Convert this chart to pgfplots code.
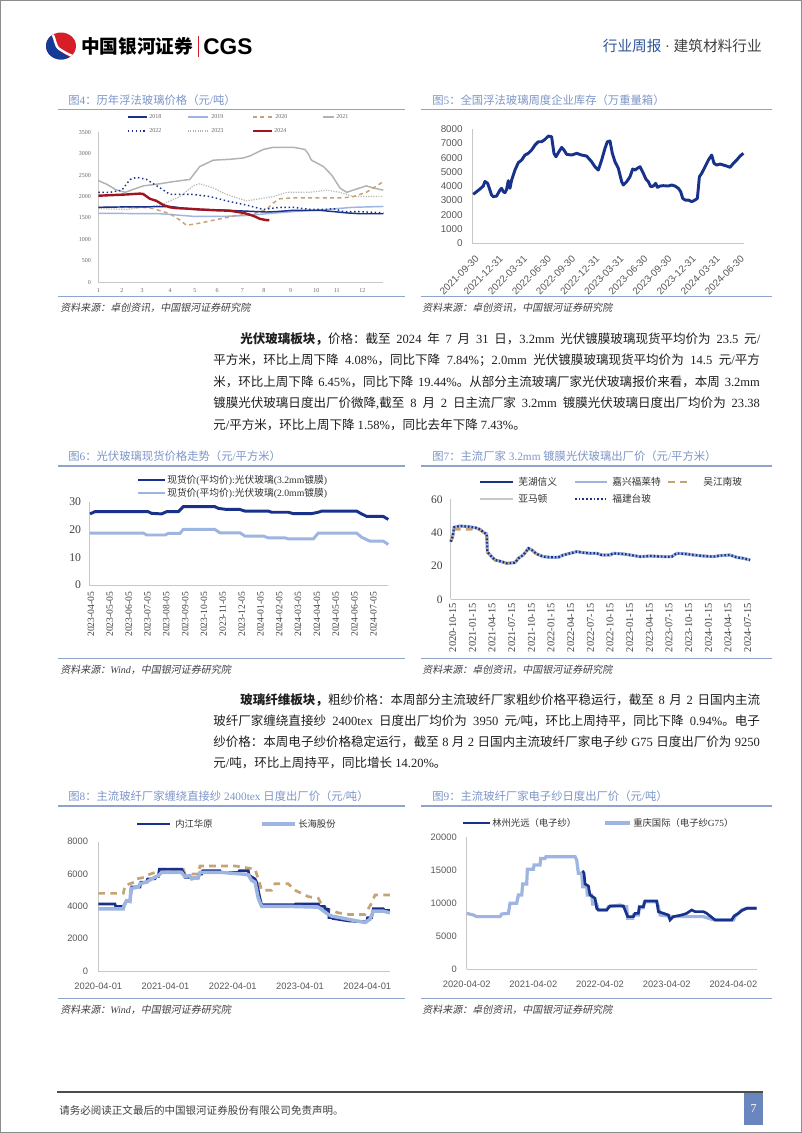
\documentclass[border=0pt]{standalone}
\usepackage{pgfplots}
\usepackage{pgfplotstable}
\pgfplotsset{compat=1.18}
\usepackage{fontspec}
\setmainfont{Liberation Serif}
\setsansfont{Liberation Sans}
\newfontfamily\cjk{Noto Sans CJK SC}[ItalicFont=Noto Sans CJK SC, ItalicFeatures={FakeSlant=0.2}]
% automatic switch between Latin and CJK fonts
\XeTeXinterchartokenstate=1
\newXeTeXintercharclass\CJKclass
\count255="4E00
\loop \XeTeXcharclass\count255=\CJKclass \ifnum\count255<"9FFF \advance\count255 by 1 \repeat
\count255="3000
\loop \XeTeXcharclass\count255=\CJKclass \ifnum\count255<"303F \advance\count255 by 1 \repeat
\count255="FF00
\loop \XeTeXcharclass\count255=\CJKclass \ifnum\count255<"FFEF \advance\count255 by 1 \repeat
\newcommand\latinfont{\rmfamily}
\XeTeXinterchartoks 0 \CJKclass = {\cjk}
\XeTeXinterchartoks 4095 \CJKclass = {\cjk}
\XeTeXinterchartoks \CJKclass 0 = {\latinfont}
\XeTeXinterchartoks \CJKclass 4095 = {\latinfont}

\definecolor{cgsred}{RGB}{215,30,40}
\definecolor{cgsblue}{RGB}{20,60,150}
\definecolor{hdrblue}{RGB}{47,85,151}
\definecolor{titleblue}{RGB}{125,150,200}
\definecolor{rulecol}{RGB}{143,163,203}
\definecolor{navy}{RGB}{24,50,140}
\definecolor{lblue}{RGB}{158,180,225}
\definecolor{tan}{RGB}{196,163,118}
\definecolor{lgray}{RGB}{200,200,200}
\definecolor{dred}{RGB}{160,20,30}
\definecolor{pagebox}{RGB}{105,135,190}

\pgfplotsset{
  base/.style={scale only axis, anchor=south west, clip=false,
    axis lines*=left, axis line style={-, draw=black!22, line width=0.6pt},
    major tick length=0pt, tick style={draw=none},
    scaled ticks=false,
    /pgf/number format/assume math mode=true, /pgf/number format/1000 sep={},
    every tick label/.append style={inner sep=0pt}},
}
\tikzset{
  ttl/.style={anchor=west, inner sep=0pt, text=titleblue, font=\fontsize{8.5}{9}\selectfont},
  src/.style={anchor=west, inner sep=0pt, text=black!75, font=\fontsize{7.5}{8}\selectfont\itshape},
  lg4/.style={anchor=west, inner sep=0pt, text=black!60, font=\fontsize{4.5}{5}\selectfont},
  lg/.style={anchor=west, inner sep=0pt, text=black!80, font=\fontsize{7.3}{8}\selectfont},
  body/.style={anchor=west, inner sep=0pt, text=black!88, font=\fontsize{9.4}{10}\selectfont},
}

\pgfplotstableread{
x y
-0.10 34.6
0 37.6
0.07 43.2
0.37 44
0.80 43.6
1.14 43
1.39 42
1.59 40
1.73 39.2
1.76 28.6
1.90 26.6
2.15 23.6
2.49 22.6
2.75 21.6
3.17 22
3.34 24.6
3.59 26.6
3.85 30.6
4.02 29.6
4.27 27.2
4.61 25.6
4.95 25.2
5.37 25.2
5.63 26.6
5.97 27.6
6.31 28.6
6.64 28
6.98 27.6
7.32 27.6
7.58 26.6
8.0 26.6
8.17 27.6
8.68 27.2
9.02 26.6
9.53 25.6
10.03 26
10.71 25.6
11.14 25.6
11.39 27.6
11.9 27.2
12.24 26.6
12.75 26
13.25 25.6
13.59 26.2
14.1 26.6
14.44 25.2
14.78 24.6
15.12 23.6
}\tabSeven

\pgfplotstableread{
x y
-0.10 35
0.07 42
1.20 42
1.39 41.5
1.59 40
1.73 39
1.76 28
1.90 26.6
2.15 23.6
2.49 22.6
2.75 21.6
3.17 22
3.34 24.6
3.59 26.6
3.85 30
4.02 29.4
4.27 27.2
4.61 25.6
}\tabSevenTan

\XeTeXlinebreaklocale "zh"
\XeTeXlinebreakskip=0pt plus 2pt minus 0.3pt

\begin{document}
\begin{tikzpicture}[x=0.75pt,y=-0.75pt]
\useasboundingbox (0,0) rectangle (802,1133);
\fill[white] (0,0) rectangle (802,1133);
\draw[black!45, line width=0.75pt] (0.5,0.5) rectangle (801.5,1132.5);

% ---------- header ----------
\begin{scope}
\clip (61,46) ellipse (15 and 13.5);
\fill[cgsred] (44,30) rectangle (78,62);
\fill[cgsblue] (44,30) -- (51,30) .. controls (58,38) and (52,46) .. (60,51) .. controls (66,56) and (72,58) .. (78,62) -- (44,62) -- cycle;
\draw[white, line width=1.8] (50,31) .. controls (57,38) and (53,46) .. (61,50) .. controls (67,54) and (72,56) .. (78,58);
\end{scope}
\node[anchor=west, inner sep=0pt] at (81,46) {\fontsize{14}{14}\selectfont\bfseries 中国银河证券};
\fill[cgsred] (197.5,36) rectangle (199.3,57);
\node[anchor=west, inner sep=0pt] at (203,46.5) {\sffamily\bfseries\fontsize{17}{17}\selectfont CGS};
\node[anchor=east, inner sep=0pt] at (762,46) {\fontsize{11}{11}\selectfont{\color{hdrblue}行业周报}\ {\color{black!75}· 建筑材料行业}};

% ---------- rules, titles, sources ----------
\foreach \yy in {109.3,466,806} {
  \draw[rulecol, line width=1.1pt] (58,\yy) -- (405,\yy);
  \draw[rulecol, line width=1.1pt] (421,\yy) -- (772,\yy);
}
\foreach \yy in {296.7,658.3,998.3} {
  \draw[rulecol, line width=1.1pt] (58,\yy) -- (405,\yy);
  \draw[rulecol, line width=1.1pt] (421,\yy) -- (772,\yy);
}
\node[ttl] at (68,100) {图4：历年浮法玻璃价格（元/吨）};
\node[ttl] at (432,100) {图5：全国浮法玻璃周度企业库存（万重量箱）};
\node[ttl] at (68,456) {图6：光伏玻璃现货价格走势（元/平方米）};
\node[ttl] at (432,456) {图7：主流厂家 3.2mm 镀膜光伏玻璃出厂价（元/平方米）};
\node[ttl] at (68,796) {图8：主流玻纤厂家缠绕直接纱 2400tex 日度出厂价（元/吨）};
\node[ttl] at (432,796) {图9：主流玻纤厂家电子纱日度出厂价（元/吨）};
\node[src] at (60,308) {资料来源：卓创资讯，中国银河证券研究院};
\node[src] at (422,308) {资料来源：卓创资讯，中国银河证券研究院};
\node[src] at (60,669.3) {资料来源：Wind，中国银河证券研究院};
\node[src] at (422,669.3) {资料来源：卓创资讯，中国银河证券研究院};
\node[src] at (60,1009.3) {资料来源：Wind，中国银河证券研究院};
\node[src] at (422,1009.3) {资料来源：卓创资讯，中国银河证券研究院};

% ---------- body paragraphs ----------
\node[body] at (240,339) {\makebox[390pt][s]{{\bfseries 光伏玻璃板块，}价格：截至 2024 年 7 月 31 日，3.2mm 光伏镀膜玻璃现货平均价为 23.5 元/}};
\node[body] at (213,360.5) {\makebox[410pt][s]{平方米，环比上周下降 4.08\%，同比下降 7.84\%；2.0mm 光伏镀膜玻璃现货平均价为 14.5 元/平方}};
\node[body] at (213,382) {\makebox[410pt][s]{米，环比上周下降 6.45\%，同比下降 19.44\%。从部分主流玻璃厂家光伏玻璃报价来看，本周 3.2mm}};
\node[body] at (213,403.5) {\makebox[410pt][s]{镀膜光伏玻璃日度出厂价微降,截至 8 月 2 日主流厂家 3.2mm 镀膜光伏玻璃日度出厂均价为 23.38}};
\node[body] at (213,425) {元/平方米，环比上周下降 1.58\%，同比去年下降 7.43\%。};

\node[body] at (240,700) {\makebox[390pt][s]{{\bfseries 玻璃纤维板块，}粗纱价格：本周部分主流玻纤厂家粗纱价格平稳运行，截至 8 月 2 日国内主流}};
\node[body] at (213,721) {\makebox[410pt][s]{玻纤厂家缠绕直接纱 2400tex 日度出厂均价为 3950 元/吨，环比上周持平，同比下降 0.94\%。电子}};
\node[body] at (213,742) {\makebox[410pt][s]{纱价格：本周电子纱价格稳定运行，截至 8 月 2 日国内主流玻纤厂家电子纱 G75 日度出厂价为 9250}};
\node[body] at (213,763) {元/吨，环比上周持平，同比增长 14.20\%。};

% ---------- footer ----------
\draw[black!70, line width=1.1pt] (57,1092) -- (763,1092);
\node[anchor=west, inner sep=0pt, text=black!75] at (59,1110) {\fontsize{7.9}{8}\selectfont 请务必阅读正文最后的中国银河证券股份有限公司免责声明。};
\fill[pagebox] (744,1093) rectangle (763,1125);
\node[text=white, inner sep=0pt] at (753.5,1109) {\fontsize{9}{9}\selectfont 7};

% ---------- Fig 4 ----------
\draw[navy, line width=0.9pt] (128,117) -- (147,117); \node[lg4] at (149,117) {2018};
\draw[lblue, line width=0.9pt] (188,117) -- (208,117); \node[lg4] at (211,117) {2019};
\draw[tan, line width=0.9pt, dash pattern=on 3pt off 2.5pt] (253,117) -- (273,117); \node[lg4] at (275,117) {2020};
\draw[black!30, line width=0.9pt] (323,117) -- (334,117); \node[lg4] at (336,117) {2021};
\draw[navy, line width=0.9pt, dotted] (128,131) -- (147,131); \node[lg4] at (149,131) {2022};
\draw[black!30, line width=0.8pt, densely dotted] (188,131) -- (208,131); \node[lg4] at (211,131) {2023};
\draw[dred, line width=1.6pt] (253,131) -- (272,131); \node[lg4] at (274,131) {2024};
\begin{axis}[base, at={(73.725pt,-211.725pt)}, width=213.75pt, height=112.5pt,
  xmin=1, xmax=53, ymin=0, ymax=3500, ytick={0,500,1000,1500,2000,2500,3000,3500},
  xtick={1,5.3,9.0,14.1,18.6,22.7,27.3,31.2,36.1,40.8,44.5,49.2},
  xticklabels={1,2,3,4,5,6,7,8,9,10,11,12},
  tick label style={font=\fontsize{4.5}{5}\selectfont, text=black!60},
  yticklabel style={xshift=-5.3pt}, xticklabel style={yshift=-4.5pt}]
\addplot[black!30, line width=1.1pt] coordinates {(1,2373)(2.5,2290)(4.3,2155)(5.9,2100)(9.2,2250)(12.3,2300)(14.7,2350)(17.7,2400)(19.5,2700)(22,2850)(25,2870)(27.4,2900)(28.7,2950)(31.1,3100)(32.9,3150)(36.6,3150)(38.7,3100)(39.3,3000)(39.9,2850)(42.1,2700)(43.6,2500)(45.1,2200)(46.3,2100)(48.7,2200)(49.9,2250)(51.2,2200)(53,2150)};
\addplot[black!28, line width=0.9pt, densely dotted] coordinates {(1,1720)(6.2,1700)(12.3,1800)(15.9,2000)(18.3,2250)(19.5,2300)(22,2200)(24.4,2050)(26.8,1950)(28.1,1900)(30.5,1950)(32.9,2000)(35.4,2100)(39.6,2100)(42.7,2150)(45.1,2100)(47.5,2000)(53,2000)};
\addplot[lblue, line width=1.1pt] coordinates {(1,1610)(12.3,1600)(18.3,1540)(24.4,1540)(28.1,1560)(31.7,1600)(36.6,1650)(42.7,1700)(47.5,1750)(53,1770)};
\addplot[tan, line width=1.1pt, dash pattern=on 3pt off 2.5pt] coordinates {(1,1750)(9.2,1750)(11,1720)(14.1,1600)(15.9,1450)(17.1,1330)(19.5,1380)(23.2,1480)(26.2,1560)(29.3,1600)(31.7,1700)(32.9,1850)(34.1,1950)(36.6,1970)(45.7,1970)(47.5,2000)(49.9,2100)(52.4,2300)(53,2350)};
\addplot[navy, line width=1.1pt] coordinates {(1,1750)(6.2,1760)(9.2,1760)(14.1,1770)(18.3,1700)(22.6,1690)(28.1,1660)(31.7,1640)(33.5,1650)(36.6,1680)(41.4,1680)(43.9,1650)(46.3,1620)(48.7,1600)(53,1600)};
\addplot[navy, line width=1.1pt, dotted] coordinates {(1,2100)(3.1,2100)(5.3,2150)(6.8,2400)(8,2450)(9.8,2400)(12.3,2200)(14.1,2050)(18.3,2050)(21.4,2000)(24.4,1900)(28.1,1800)(31.1,1700)(34.1,1750)(36.6,1750)(39.6,1700)(42.7,1700)(43.9,1720)(45.7,1650)(48.7,1650)(53,1620)};
\addplot[dred, line width=1.8pt] coordinates {(1,2020)(6.2,2050)(8.6,2070)(9.2,2060)(10.4,1950)(11.6,1900)(12.9,1800)(14.1,1750)(15.3,1730)(17.1,1720)(19.5,1700)(22.6,1680)(25,1670)(27.5,1620)(29.3,1550)(30.5,1480)(31.7,1450)(32.2,1450)};
\end{axis}

% ---------- Fig 5 ----------
\begin{axis}[base, at={(354.225pt,-182.475pt)}, width=203.8pt, height=85.7pt,
  xmin=-0.04, xmax=11.23, ymin=0, ymax=8000, ytick={0,1000,2000,3000,4000,5000,6000,7000,8000},
  xtick={0,1,2,3,4,5,6,7,8,9,10,11},
  xticklabels={2021-09-30,2021-12-31,2022-03-31,2022-06-30,2022-09-30,2022-12-31,2023-03-31,2023-06-30,2023-09-30,2023-12-31,2024-03-31,2024-06-30},
  tick label style={font=\sffamily\fontsize{7.4}{8}\selectfont, text=black!65},
  yticklabel style={xshift=-7pt}, xticklabel style={yshift=-8.5pt, xshift=1pt, rotate=45, anchor=north east}]
\addplot[navy, line width=2.2pt, line join=round] coordinates {(0,3430)(0.138,3615)(0.277,3800)(0.415,4010)(0.484,4330)(0.595,4200)(0.692,3730)(0.761,3380)(0.83,3265)(0.968,3310)(1.107,3730)(1.176,3850)(1.245,3615)(1.314,3545)(1.383,3780)(1.452,4385)(1.494,4080)(1.521,3850)(1.591,4430)(1.729,5130)(1.867,5645)(2.006,5830)(2.144,6180)(2.282,6300)(2.42,6530)(2.559,6880)(2.697,7110)(2.835,7110)(2.974,7275)(3.112,7510)(3.25,7460)(3.347,6300)(3.43,6060)(3.527,6340)(3.665,6715)(3.762,6530)(3.873,6230)(4.08,6180)(4.288,6300)(4.495,6180)(4.703,6110)(4.91,5710)(5.048,5360)(5.187,5130)(5.325,5830)(5.463,6650)(5.56,7110)(5.671,7160)(5.768,6300)(5.878,5710)(6.017,5250)(6.155,4315)(6.224,4080)(6.362,4315)(6.501,4660)(6.611,5200)(6.708,5130)(6.805,5250)(6.916,5360)(7.054,4900)(7.165,4480)(7.261,4315)(7.358,3965)(7.469,4010)(7.566,4200)(7.635,3920)(7.746,4010)(7.884,4035)(8.091,4010)(8.23,4080)(8.368,4010)(8.506,3850)(8.603,3615)(8.686,3150)(8.783,3030)(8.921,3030)(9.059,2915)(9.198,3030)(9.295,3150)(9.378,4660)(9.474,4900)(9.613,5360)(9.751,5830)(9.889,6180)(9.986,5600)(10.097,5480)(10.235,5550)(10.373,5480)(10.512,5410)(10.65,5320)(10.788,5600)(10.927,5830)(11.065,6110)(11.203,6300)};
\end{axis}

% ---------- Fig 6 ----------
\draw[navy, line width=2.2pt] (138,480) -- (165,480); \node[lg] at (167,480) {现货价(平均价):光伏玻璃(3.2mm镀膜)};
\draw[lblue, line width=2.2pt] (138,493) -- (165,493); \node[lg] at (167,493) {现货价(平均价):光伏玻璃(2.0mm镀膜)};
\begin{axis}[base, at={(66.975pt,-438.75pt)}, width=224.25pt, height=62.5pt,
  xmin=-0.088, xmax=15.79, ymin=0, ymax=30, ytick={0,10,20,30},
  xtick={0,1,2,3,4,5,6,7,8,9,10,11,12,13,14,15},
  xticklabels={2023-04-05,2023-05-05,2023-06-05,2023-07-05,2023-08-05,2023-09-05,2023-10-05,2023-11-05,2023-12-05,2024-01-05,2024-02-05,2024-03-05,2024-04-05,2024-05-05,2024-06-05,2024-07-05},
  tick label style={text=black!75},
  yticklabel style={font=\fontsize{8.8}{9}\selectfont, xshift=-6pt},
  xticklabel style={font=\fontsize{7.2}{8}\selectfont, yshift=-5pt, rotate=90, anchor=east}]
\addplot[lblue, line width=2.2pt] coordinates {(-0.05,18.7)(2.78,18.7)(2.96,18.0)(3.93,18.0)(4.11,18.6)(4.73,18.6)(4.9,20.0)(6.58,20.0)(6.85,18.8)(7.91,18.8)(8.18,17.6)(9.15,17.6)(9.42,17.0)(10.3,17.0)(10.48,16.6)(11.81,16.6)(12.07,18.7)(14.11,18.7)(14.37,17.2)(14.81,15.8)(15.52,15.8)(15.79,14.6)};
\addplot[navy, line width=2.2pt] coordinates {(-0.05,25.6)(0.21,26.4)(3.04,26.4)(3.22,25.8)(3.75,25.6)(4.02,26.4)(4.64,26.4)(4.9,28.2)(6.58,28.2)(6.76,27.6)(7.2,27.2)(7.91,27.2)(8.18,26.6)(9.42,26.6)(9.59,26.2)(10.48,26.2)(10.74,25.7)(11.72,25.7)(12.07,26.2)(12.25,26.6)(14.11,26.6)(14.37,25.6)(14.64,24.7)(15.52,24.7)(15.79,23.6)};
\end{axis}

% ---------- Fig 7 ----------
\draw[navy, line width=1.8pt] (480,482) -- (513,482); \node[lg] at (518,482) {芜湖信义};
\draw[lblue, line width=2.2pt] (575,482) -- (607,482); \node[lg] at (612,482) {嘉兴福莱特};
\draw[tan, line width=1.8pt, dash pattern=on 5pt off 4pt] (668,482) -- (690,482); \node[lg] at (703,482) {吴江南玻};
\draw[lgray, line width=2.2pt] (480,499) -- (513,499); \node[lg] at (518,499) {亚马顿};
\draw[navy, line width=1.6pt, dash pattern=on 1.2pt off 1.6pt] (575,499) -- (607,499); \node[lg] at (612,499) {福建台玻};
\begin{axis}[base, at={(338.025pt,-449.475pt)}, width=224.5pt, height=75pt,
  xmin=-0.102, xmax=15.12, ymin=0, ymax=60, ytick={0,20,40,60},
  xtick={0,1,2,3,4,5,6,7,8,9,10,11,12,13,14,15},
  xticklabels={2020-10-15,2021-01-15,2021-04-15,2021-07-15,2021-10-15,2022-01-15,2022-04-15,2022-07-15,2022-10-15,2023-01-15,2023-04-15,2023-07-15,2023-10-15,2024-01-15,2024-04-15,2024-07-15},
  tick label style={text=black!75},
  yticklabel style={font=\fontsize{8.6}{9}\selectfont, xshift=-5.8pt},
  xticklabel style={font=\fontsize{7.8}{8}\selectfont, yshift=-3pt, rotate=90, anchor=east}]
\addplot[navy, line width=1.6pt] table[x=x,y=y]{\tabSeven};
\addplot[lgray, line width=2.2pt] table[x=x,y=y]{\tabSeven};
\addplot[lblue, line width=2.2pt] table[x=x,y=y]{\tabSeven};
\addplot[tan, line width=1.8pt, dash pattern=on 5pt off 4pt] table[x=x,y=y]{\tabSevenTan};
\addplot[navy, line width=1.7pt, dash pattern=on 1.2pt off 1.5pt] table[x=x,y=y]{\tabSeven};
\end{axis}

% ---------- Fig 8 ----------
\draw[navy, line width=2pt] (137,824) -- (170,824); \node[lg, font=\fontsize{7}{8}\selectfont] at (175,824) {内江华原};
\draw[lblue, line width=2.6pt] (262,824) -- (295,824); \node[lg, font=\fontsize{7}{8}\selectfont] at (298,824) {长海股份};
\begin{axis}[base, at={(73.725pt,-728.25pt)}, width=218.75pt, height=97pt,
  xmin=0, xmax=4.337, ymin=0, ymax=8000, ytick={0,2000,4000,6000,8000},
  xtick={0,1,2,3,4}, xticklabels={2020-04-01,2021-04-01,2022-04-01,2023-04-01,2024-04-01},
  tick label style={font=\sffamily\fontsize{7}{8}\selectfont, text=black!65},
  yticklabel style={xshift=-7.5pt}, xticklabel style={yshift=-8.5pt}]
\addplot[tan, line width=2pt, dash pattern=on 5pt off 4pt] coordinates {(0,4800)(0.372,4800)(0.397,5300)(0.545,5500)(0.57,5700)(0.694,5800)(0.743,5950)(0.843,6100)(0.942,6300)(1.264,6300)(1.289,6000)(1.487,6000)(1.512,6500)(2.032,6500)(2.33,6300)(2.379,5700)(2.429,5000)(2.577,5000)(2.627,5400)(2.825,5400)(2.924,5000)(3.123,4600)(3.271,4500)(3.321,4100)(3.42,3800)(3.569,3600)(3.717,3500)(3.965,3500)(4.064,4200)(4.114,4700)(4.337,4700)};
\addplot[navy, line width=2pt] coordinates {(0,4150)(0.248,4150)(0.258,4000)(0.372,4000)(0.397,4150)(0.421,4350)(0.471,4350)(0.496,5200)(0.62,5200)(0.634,5500)(0.719,5500)(0.734,5700)(0.843,5700)(0.857,5850)(0.892,5850)(0.907,6300)(1.239,6300)(1.264,6100)(1.289,5800)(1.363,5800)(1.378,5750)(1.487,5750)(1.502,6000)(1.537,6000)(1.551,6200)(1.809,6200)(1.824,6100)(2.082,6100)(2.097,6200)(2.23,6200)(2.245,5900)(2.33,5700)(2.354,5500)(2.379,5000)(2.404,4500)(2.429,4100)(2.924,4100)(2.934,4150)(3.271,4150)(3.286,4000)(3.361,4000)(3.371,3800)(3.42,3800)(3.43,3300)(3.47,3300)(3.485,3250)(3.717,3100)(3.941,3050)(3.99,3050)(4.005,3300)(4.064,3300)(4.089,3850)(4.238,3850)(4.253,3750)(4.337,3750)};
\addplot[lblue, line width=2.6pt] coordinates {(0,3850)(0.372,3850)(0.387,4100)(0.421,4350)(0.471,4300)(0.486,5100)(0.595,5200)(0.62,5400)(0.719,5500)(0.793,5700)(0.843,5800)(0.892,5900)(0.942,6100)(1.239,6100)(1.264,5950)(1.289,5850)(1.363,5900)(1.388,5700)(1.487,5800)(1.512,6100)(1.834,6100)(2.131,6000)(2.23,5950)(2.28,5600)(2.33,5500)(2.379,4500)(2.429,4000)(2.825,4000)(3.271,3950)(3.321,3800)(3.42,3500)(3.47,3400)(3.717,3200)(3.965,3000)(4.04,3200)(4.089,3700)(4.238,3700)(4.337,3600)};
\end{axis}

% ---------- Fig 9 ----------
\draw[navy, line width=2pt] (463,823) -- (490,823); \node[lg, font=\fontsize{7}{8}\selectfont] at (492,823) {林州光远（电子纱）};
\draw[lblue, line width=2.4pt] (605,823) -- (630,823); \node[lg, font=\fontsize{7}{8}\selectfont] at (633,823) {重庆国际（电子纱G75）};
\begin{axis}[base, at={(350.025pt,-726.975pt)}, width=217.5pt, height=99pt,
  xmin=0, xmax=4.35, ymin=0, ymax=20000, ytick={0,5000,10000,15000,20000},
  xtick={0,1,2,3,4}, xticklabels={2020-04-02,2021-04-02,2022-04-02,2023-04-02,2024-04-02},
  tick label style={font=\sffamily\fontsize{7}{8}\selectfont, text=black!65},
  yticklabel style={xshift=-7.3pt}, xticklabel style={yshift=-8.5pt}]
\addplot[lblue, line width=2.4pt] coordinates {(0,8480)(0.1,8230)(0.15,7980)(0.5,7980)(0.525,8380)(0.625,8480)(0.65,10000)(0.75,10000)(0.775,11260)(0.825,11260)(0.84,12930)(0.9,12930)(0.91,15150)(1.0,15150)(1.01,15800)(1.1,15800)(1.11,16800)(1.175,16800)(1.19,17070)(1.625,17070)(1.65,16560)(1.675,14540)(1.725,14540)(1.74,12520)(1.8,12520)(1.81,11260)(1.875,11260)(1.89,9900)(1.95,9900)(1.975,8990)(2.1,8990)(2.125,9490)(2.3,9750)(2.35,9490)(2.4,9490)(2.415,7730)(2.49,7730)(2.5,8230)(2.575,8230)(2.59,9340)(2.65,9340)(2.665,10250)(2.85,10250)(2.875,9490)(2.9,8230)(3.1,7980)(3.55,7980)(3.675,7580)(3.725,7480)(4.0,7480)(4.025,7980)(4.075,8480)(4.125,8990)(4.2,9240)(4.35,9240)};
\addplot[navy, line width=2pt] coordinates {(1.74,14950)(1.76,14540)(1.775,12930)(1.825,12630)(1.85,11260)(1.925,10760)(1.95,9240)(1.975,8990)(2.1,8990)(2.15,9600)(2.35,9600)(2.415,7980)(2.5,7980)(2.525,8480)(2.575,8480)(2.59,9490)(2.65,9490)(2.675,10350)(2.85,10350)(2.875,8740)(2.95,8480)(3.025,8230)(3.05,7480)(3.1,7980)(3.225,8230)(3.3,8480)(3.375,8990)(3.425,8740)(3.55,8740)(3.6,8480)(3.675,7880)(3.725,7480)(3.975,7480)(4.01,8080)(4.075,8480)(4.125,8890)(4.2,9240)(4.35,9240)};
\end{axis}
\end{tikzpicture}
\end{document}
